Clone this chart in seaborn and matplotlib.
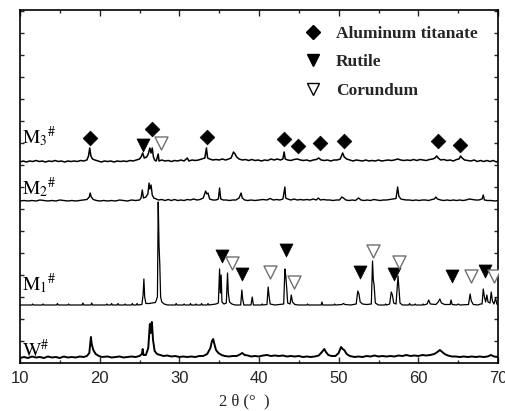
import numpy as np
import pandas as pd
import matplotlib
matplotlib.use("Agg")
import matplotlib.pyplot as plt
from matplotlib.lines import Line2D
import seaborn as sns

# ---------------- data ----------------
# intensities in arbitrary units, each relative to its own trace baseline
w_2theta = [10.0, 10.5, 11, 11.5, 12, 12.5, 13, 13.5, 14, 14.5, 15, 15.5, 16, 16.5, 17, 17.5, 18, 18.4, 18.7, 18.9,
            19.0, 19.2, 19.5, 19.9, 20.3, 21, 21.5, 22, 22.5, 23, 23.5, 24, 24.5, 25, 25.3, 25.4, 25.5, 25.8, 26.1,
            26.3, 26.4, 26.55, 26.7, 26.9, 27.2, 27.6, 28, 28.5, 29, 29.5, 30, 30.5, 31, 31.5, 32, 32.5, 33, 33.5,
            33.9, 34.1, 34.25, 34.4, 34.6, 34.9, 35.3, 35.7, 36.2, 36.7, 37.2, 37.6, 37.9, 38.2, 38.6, 39, 39.5, 40,
            40.5, 41, 41.5, 42, 42.5, 43, 43.5, 44, 44.5, 45, 45.5, 46, 46.5, 47, 47.5, 47.9, 48.2, 48.4, 48.7, 49.1,
            49.6, 50.0, 50.3, 50.5, 50.7, 51.0, 51.4, 52, 52.5, 53, 53.5, 54, 54.5, 55, 55.5, 56, 56.5, 57, 57.5, 58,
            58.5, 59, 59.5, 60, 60.5, 61, 61.5, 62, 62.4, 62.7, 63, 63.3, 63.7, 64.2, 64.7, 65.2, 65.7, 66.2, 66.7,
            67.2, 67.7, 68.2, 68.7, 69.1, 69.5, 70]
w_int = [0, 1, 0, 1.5, 0.5, 1, 0, 1.5, 0.5, 1, 0, 1.5, 0.5, 1, 0.5, 1.5, 1, 2, 5, 21,
         14, 8, 4, 2, 1, 1.5, 0.5, 1, 1.5, 0.5, 1, 1.5, 1, 2, 4, 9, 3, 3, 10,
         34, 25, 36, 18, 7, 4, 3, 2, 2.5, 1.5, 2, 1, 1.5, 1, 1.5, 1, 2, 2, 4,
         10, 17, 19, 14, 8, 5, 3, 2, 1.5, 2, 2, 3.5, 5, 3, 2.5, 1.5, 2, 1.5,
         2.5, 3, 2, 2.5, 2, 2.5, 1.5, 2, 1.5, 2, 1, 1.5, 1, 1.5, 2.5, 6, 9, 6, 3, 2,
         2, 5, 11, 9, 8, 4, 2, 1, 1.5, 1, 2, 1.5, 2.5, 1.5, 2, 1.5, 2, 1.5, 2.5, 2,
         3, 2, 2.5, 2, 3, 2.5, 3, 4, 6, 8, 6, 4, 2.5, 1.5, 1.5, 1, 1.5, 1, 1.5,
         1, 1.5, 1, 1.5, 3, 1.5, 1]

m1_2theta = [10, 11.5, 11.6, 11.7, 12.8, 12.9, 13.0, 14.6, 14.7, 14.8, 16.0, 16.1, 16.2, 17.8, 17.9, 18.0, 18.9, 19.0,
             19.1, 20.8, 20.9, 21.0, 21.4, 21.5, 21.6, 22.2, 22.3, 22.4, 23.1, 23.2, 23.3, 24.0, 24.1, 24.2, 24.6, 24.7,
             24.8, 25.3, 25.45, 25.55, 25.65, 25.8, 26.2, 26.6, 27.0, 27.25, 27.35, 27.45, 27.55, 27.65, 27.8, 28.1,
             28.5, 29.5, 29.6, 29.7, 30.5, 30.6, 30.7, 31.3, 31.4, 31.5, 32.0, 32.1, 32.2, 32.7, 32.8, 32.9, 33.5,
             33.6, 33.7, 34.2, 34.6, 34.9, 35.05, 35.15, 35.25, 35.35, 35.6, 35.9, 36.05, 36.15, 36.3, 36.6, 37.0,
             37.7, 37.85, 37.95, 38.1, 39.0, 39.15, 39.3, 40.3, 40.4, 40.5, 41.0, 41.15, 41.25, 41.4, 42.0, 42.5, 43.1,
             43.25, 43.35, 43.45, 43.6, 43.9, 44.05, 44.2, 44.5, 45, 46, 46.1, 46.2, 47.8, 47.9, 48.0, 49.4, 49.5,
             49.6, 50.4, 50.6, 50.8, 51.5, 52.2, 52.4, 52.55, 52.7, 53.0, 53.5, 54.1, 54.25, 54.35, 54.45, 54.6, 55.0,
             55.8, 55.9, 56.0, 56.4, 56.6, 56.75, 56.9, 57.2, 57.45, 57.55, 57.7, 58.0, 58.8, 58.9, 59.0, 59.5, 59.6,
             59.7, 60.5, 60.6, 60.7, 61.1, 61.3, 61.5, 62.2, 62.5, 62.7, 62.9, 63.3, 64.0, 64.1, 64.25, 64.8, 65.0,
             65.2, 66.3, 66.5, 66.65, 66.9, 67.5, 67.8, 68.0, 68.15, 68.3, 68.45, 68.6, 68.75, 69.0, 69.15, 69.3,
             69.5, 69.7, 69.85, 70]
m1_int = [0, 0, 1, 0, 0, 1, 0, 0, 1.5, 0, 0, 1, 0, 0, 2, 0, 0, 2,
          0, 0, 1, 0, 0, 1.5, 0, 0, 1.5, 0, 0, 1, 0, 0, 1.5, 0, 0, 1.5,
          0, 0.5, 10, 26, 8, 1.5, 1.5, 2, 2.5, 8, 103, 60, 40, 8, 3, 1,
          0, 0, 1.5, 0, 0, 1, 0, 0, 1.5, 0, 0, 1, 0, 0, 1.5, 0, 0,
          1.5, 0, 0.5, 1, 2, 36, 12, 30, 3, 1, 2, 32, 12, 3, 1, 0,
          0, 15, 6, 0, 0, 8, 0, 0, 1, 0, 0.5, 18, 10, 1, 0, 0.5, 1,
          36, 30, 20, 2, 1, 10, 3, 0.5, 0, 0, 1, 0, 0, 3, 0, 0, 1,
          0, 0.5, 1.5, 0.5, 0, 1, 14, 11, 3, 1, 0.5, 1, 44, 25, 20, 2, 0,
          0, 1, 0, 1, 13, 10, 2, 1, 29, 18, 2, 0, 0, 1.5, 0, 0, 1,
          0, 0, 1, 0, 1, 5, 1, 0.5, 3, 6, 2, 0.5, 0.5, 5, 0.5, 0, 1,
          0, 0.5, 11, 4, 0.5, 0, 1, 1, 16, 8, 3, 10, 3, 2, 13, 4,
          1, 7, 1, 0]

m2_2theta = [10, 10.5, 11, 11.5, 12, 12.5, 13, 13.5, 14, 14.5, 15, 15.5, 16, 16.5, 17, 17.5, 18, 18.4, 18.7, 18.8,
             18.95, 19.2, 19.6, 20, 20.5, 21, 21.5, 22, 22.5, 23, 23.5, 24, 24.5, 25, 25.2, 25.35, 25.5, 25.8, 26.05,
             26.2, 26.3, 26.45, 26.6, 26.8, 27.1, 27.4, 27.8, 28.2, 28.6, 29, 29.4, 29.8, 30.2, 30.6, 31, 31.4, 31.8,
             32.2, 32.6, 33.0, 33.3, 33.45, 33.6, 33.8, 34.2, 34.6, 34.9, 35.05, 35.2, 35.5, 35.9, 36.3, 36.7, 37.1,
             37.5, 37.75, 37.9, 38.2, 38.6, 39, 39.5, 40, 40.5, 41, 41.4, 41.8, 42.2, 42.6, 43.0, 43.25, 43.35, 43.6,
             44, 44.4, 44.8, 45.2, 45.6, 46.0, 46.4, 46.8, 47.2, 47.45, 47.7, 48.1, 48.5, 48.9, 49.3, 49.7, 50.1,
             50.4, 50.6, 50.9, 51.3, 51.7, 52.1, 52.5, 52.8, 53.2, 53.6, 54.0, 54.4, 54.8, 55.2, 55.6, 56.0, 56.4,
             56.8, 57.2, 57.4, 57.55, 57.8, 58.1, 58.5, 58.9, 59.3, 59.7, 60.1, 60.5, 60.9, 61.3, 61.7, 62.0, 62.2,
             62.4, 62.8, 63.2, 63.6, 64.0, 64.4, 64.8, 65.2, 65.6, 66.0, 66.4, 66.8, 67.2, 67.6, 68.0, 68.15, 68.3,
             68.7, 69.1, 69.6, 70]
m2_int = [0, 0.5, 0, 0.5, 0, 1, 0.5, 0, 0.5, 0, 1, 0.5, 0, 0.5, 0, 0.5, 1, 1.5, 4, 8,
          4, 1.5, 0.5, 0, 0.5, 0, 0.5, 0, 1, 0.5, 0, 1, 0.5, 1, 3, 11, 3, 4, 7,
          18, 12, 16, 6, 3, 2, 1, 1.5, 0.5, 1.5, 0.5, 1.5, 0.5, 1, 0.5, 1.5, 1, 2,
          1, 1.5, 3, 10, 7, 8, 2, 1, 1, 2, 13, 2, 1, 1, 0.5, 1, 1,
          3, 8, 3, 1, 0.5, 1, 0.5, 1, 1.5, 1, 2.5, 1, 1.5, 1, 2, 14, 3, 2,
          1, 2, 1, 1.5, 1, 1.5, 1, 2, 1, 3, 1, 1.5, 1, 1, 0.5, 1, 1,
          4, 3, 1, 0.5, 1, 0.5, 3, 1, 0.5, 1, 0.5, 1.5, 1, 0.5, 1, 1, 1.5,
          2, 2.5, 14, 5, 2, 1.5, 1, 1, 0.5, 1, 0.5, 1, 1, 0.5, 1.5, 2, 4,
          2, 1, 0.5, 1, 0.5, 1, 0.5, 1, 0.5, 1, 2, 1.5, 1, 1, 2, 6, 1,
          0.5, 0.5, 0, 0.5]

m3_2theta = [10, 10.4, 10.8, 11.2, 11.6, 12, 12.4, 12.8, 13.2, 13.6, 14, 14.4, 14.8, 15.2, 15.6, 16, 16.4, 16.8, 17.2,
             17.6, 18, 18.4, 18.6, 18.75, 18.9, 19.1, 19.4, 19.8, 20.2, 20.6, 21, 21.4, 21.8, 22.2, 22.6, 23, 23.4,
             23.8, 24.2, 24.6, 25, 25.2, 25.4, 25.6, 25.9, 26.1, 26.3, 26.45, 26.6, 26.75, 26.9, 27.1, 27.35, 27.45,
             27.8, 28.2, 28.6, 29, 29.4, 29.8, 30.2, 30.6, 31.0, 31.2, 31.6, 32, 32.4, 32.8, 33.2, 33.4, 33.55, 33.8,
             34.2, 34.6, 35, 35.4, 35.8, 36.2, 36.5, 36.8, 37.0, 37.2, 37.5, 37.9, 38.3, 38.7, 39.1, 39.5, 39.9, 40.3,
             40.7, 41.1, 41.5, 41.9, 42.3, 42.7, 43.0, 43.15, 43.3, 43.6, 44.0, 44.4, 44.8, 45.2, 45.6, 46.0, 46.4,
             46.8, 47.2, 47.5, 47.8, 48.2, 48.6, 49.0, 49.4, 49.8, 50.2, 50.5, 50.7, 51.0, 51.4, 51.8, 52.2, 52.6,
             53.0, 53.4, 53.8, 54.2, 54.6, 55.0, 55.4, 55.8, 56.2, 56.6, 57.0, 57.4, 57.8, 58.2, 58.6, 59.0, 59.4,
             59.8, 60.2, 60.6, 61.0, 61.4, 61.8, 62.1, 62.3, 62.5, 62.8, 63.2, 63.6, 64.0, 64.4, 64.8, 65.1, 65.3,
             65.5, 65.8, 66.2, 66.6, 67.0, 67.4, 67.8, 68.2, 68.6, 69.0, 69.4, 69.8, 70]
m3_int = [0, 1, 0, 1, 0.5, 1.5, 0.5, 1, 0, 1, 0.5, 1.5, 0.5, 1, 0, 1, 0.5, 1, 0.5,
          1.5, 1, 2, 6, 14, 6, 3, 2, 1, 0, 1, 0.5, 1, 0, 1, 0.5, 1, 0.5,
          1.5, 1, 2, 3, 5, 9, 4, 5, 8, 14, 9, 14, 5, 2, 1, 8, 1,
          2, 1, 1.5, 0.5, 1.5, 1, 2, 1, 4, 1, 2, 1.5, 2, 3, 4, 14, 4, 3,
          2, 2.5, 2, 3, 2, 3, 4, 10, 8, 5, 3, 2, 2.5, 1.5, 2.5, 1.5, 2, 1,
          2, 1.5, 3, 2, 3, 2, 3, 10, 3, 2, 1.5, 2.5, 3, 2, 1.5, 2, 1,
          2, 2.5, 4, 2, 1.5, 2, 1, 2, 2, 3, 9, 5, 3, 2, 1, 2, 1.5,
          1, 2, 1, 1.5, 1, 2, 1, 1.5, 2, 1.5, 2, 3, 2, 1.5, 2, 1.5, 2.5,
          1.5, 2.5, 2, 1.5, 2.5, 3, 4, 6, 4, 2, 2.5, 1.5, 2, 1, 2.5, 3, 6,
          4, 2, 1.5, 1, 2, 0.5, 1.5, 0.5, 1.5, 0.5, 1.5, 0, 1]

sample_names = ["W", "M1", "M2", "M3"]
sample_labels = [r"$\mathrm{W}^{\#}$", r"$\mathrm{M_1}^{\#}$", r"$\mathrm{M_2}^{\#}$", r"$\mathrm{M_3}^{\#}$"]

# phase markers (2theta, height in the stacked plot)
alti_2theta = [18.78, 26.56, 33.46, 43.12, 44.88, 47.64, 50.65, 62.45, 65.2]
alti_y = [225, 234, 226, 224, 217, 220, 222, 222, 218]
rutile_2theta = [25.43, 35.35, 37.85, 43.38, 52.66, 56.93, 64.2, 68.34]
rutile_y = [218, 107, 89, 113, 91, 89, 87, 92]
corundum_2theta = [27.69, 36.6, 41.37, 44.38, 54.29, 57.55, 66.59, 69.47]
corundum_y = [220, 100, 91, 81, 112, 101, 87, 87]

legend_labels = ["Aluminum titanate", "Rutile", "Corundum"]
x_ticks = [10, 20, 30, 40, 50, 60, 70]
x_label = "2 θ (°  )"

# ---------------- styling / layout ----------------
offsets = {"W": 5, "M1": 58, "M2": 162, "M3": 201}
label_y = {"W": 6, "M1": 73, "M2": 169, "M3": 220}

sns.set_style("ticks")
plt.rcParams["font.family"] = ["Liberation Sans", "DejaVu Sans"]
plt.rcParams["mathtext.fontset"] = "stix"

fig = plt.figure(figsize=(5.06, 4.11), dpi=100)
ax = fig.add_axes([20 / 506, 1 - 363 / 411, 478 / 506, 353 / 411])

traces = {"W": (w_2theta, w_int), "M1": (m1_2theta, m1_int),
          "M2": (m2_2theta, m2_int), "M3": (m3_2theta, m3_int)}
widths = {"W": 1.4, "M1": 0.9, "M2": 1.0, "M3": 1.1}
for name in sample_names:
    xs, ys = traces[name]
    df = pd.DataFrame({"2theta": xs, "I": np.asarray(ys, float) + offsets[name]})
    sns.lineplot(data=df, x="2theta", y="I", ax=ax, color="black", lw=widths[name],
                 estimator=None, sort=False, legend=False)

for name, lab in zip(sample_names, sample_labels):
    ax.text(10.2, label_y[name], lab, fontsize=14, ha="left", va="baseline", color="black")

sns.scatterplot(x=alti_2theta, y=alti_y, marker="D", s=56, color="black", edgecolor="black",
                linewidth=0.5, ax=ax, zorder=5)
sns.scatterplot(x=rutile_2theta, y=rutile_y, marker="v", s=88, color="black", edgecolor="black",
                linewidth=0.5, ax=ax, zorder=5)
sns.scatterplot(x=corundum_2theta, y=corundum_y, marker="v", s=88, facecolor="white",
                edgecolor="#707070", linewidth=1.0, ax=ax, zorder=5)

handles = [
    Line2D([], [], ls="none", marker="D", ms=7.5, mfc="black", mec="black"),
    Line2D([], [], ls="none", marker="v", ms=9, mfc="black", mec="black"),
    Line2D([], [], ls="none", marker="v", ms=9, mfc="white", mec="black", mew=1.0),
]
leg = ax.legend(handles, legend_labels, loc="upper left", bbox_to_anchor=(0.594, 0.955),
                frameon=False, handlelength=1.0, handletextpad=0.85, borderpad=0, borderaxespad=0,
                labelspacing=0.7, prop={"family": "Liberation Serif", "weight": "bold", "size": 12.5})

ax.set_xlim(10, 70)
ax.set_ylim(0, 353)
ax.set_xticks(x_ticks)
ax.set_xticklabels([str(t) for t in x_ticks])
ax.set_xticks(np.arange(15, 70, 10), minor=True)
ax.set_yticks(np.arange(22, 353, 22))
ax.set_yticklabels([])
ax.tick_params(axis="x", which="major", direction="in", length=4, width=1, top=True, pad=6, labelsize=12)
ax.tick_params(axis="x", which="minor", direction="in", length=2.5, width=1, top=True)
ax.tick_params(axis="y", which="major", direction="in", length=3, width=1, right=True, left=True)
ax.set_ylabel("")
ax.set_xlabel(x_label, family="Liberation Serif", fontsize=12)
ax.xaxis.set_label_coords(0.47, -0.085)
for s in ax.spines.values():
    s.set_linewidth(1.2)
    s.set_color("black")

fig.savefig("out.png", dpi=100)
